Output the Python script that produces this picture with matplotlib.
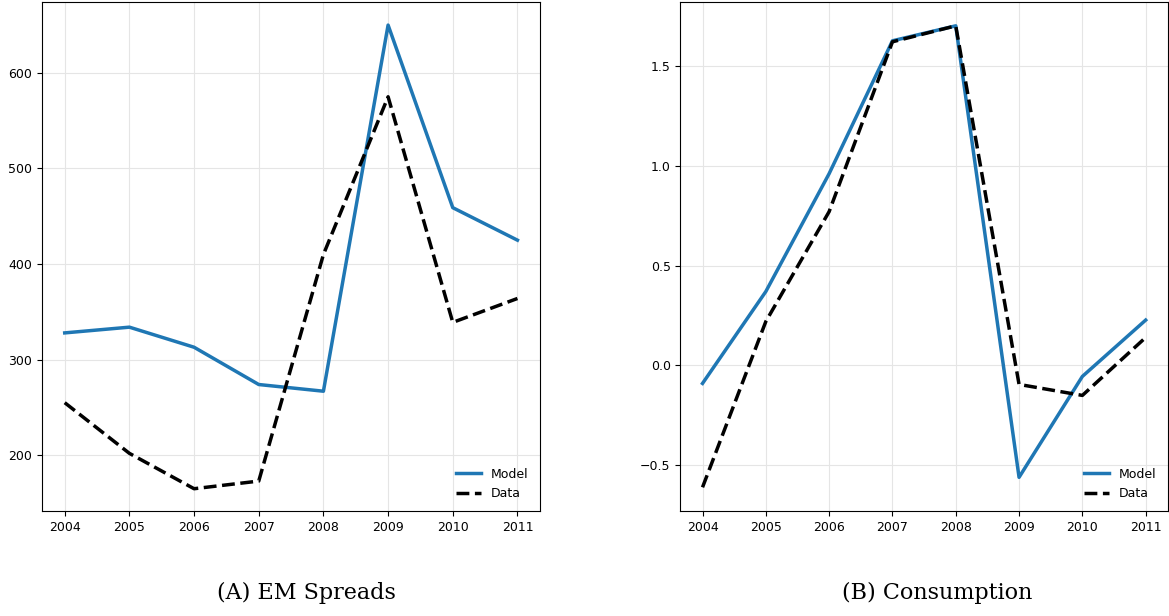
import matplotlib.pyplot as plt

years = [2004, 2005, 2006, 2007, 2008, 2009, 2010, 2011]
spread_model = [328, 334, 313, 274, 267, 650, 459, 425]
spread_data = [255, 202, 165, 173, 410, 575, 339, 364]
cons_model = [-0.09, 0.37, 0.96, 1.625, 1.70, -0.56, -0.055, 0.227]
cons_data = [-0.61, 0.22, 0.77, 1.62, 1.70, -0.095, -0.15, 0.14]

fig = plt.figure(figsize=(11.69, 6.16), dpi=100)
ax1 = fig.add_axes([0.036, 0.170, 0.426, 0.827])
ax2 = fig.add_axes([0.582, 0.170, 0.417, 0.827])

for ax, m, d in [(ax1, spread_model, spread_data), (ax2, cons_model, cons_data)]:
    ax.plot(years, m, color='#1f77b4', lw=2.5, label='Model')
    ax.plot(years, d, color='black', lw=2.5, ls='--', label='Data')
    ax.grid(True, color='#e5e5e5', lw=0.8)
    ax.set_xticks(years)
    ax.tick_params(labelsize=9)
    ax.legend(loc='lower right', frameon=False, fontsize=9)

ax1.set_yticks([200, 300, 400, 500, 600])
ax1.set_ylim(141.4, 674.3)
ax2.set_yticks([-0.5, 0.0, 0.5, 1.0, 1.5])
ax2.set_ylim(-0.73, 1.82)
ax1.set_xlim(2003.65, 2011.35)
ax2.set_xlim(2003.65, 2011.35)

fig.text(0.262, 0.037, '(A) EM Spreads', ha='center', va='center', family='DejaVu Serif', fontsize=16)
fig.text(0.802, 0.037, '(B) Consumption', ha='center', va='center', family='DejaVu Serif', fontsize=16)

fig.savefig('out.png', dpi=100)
